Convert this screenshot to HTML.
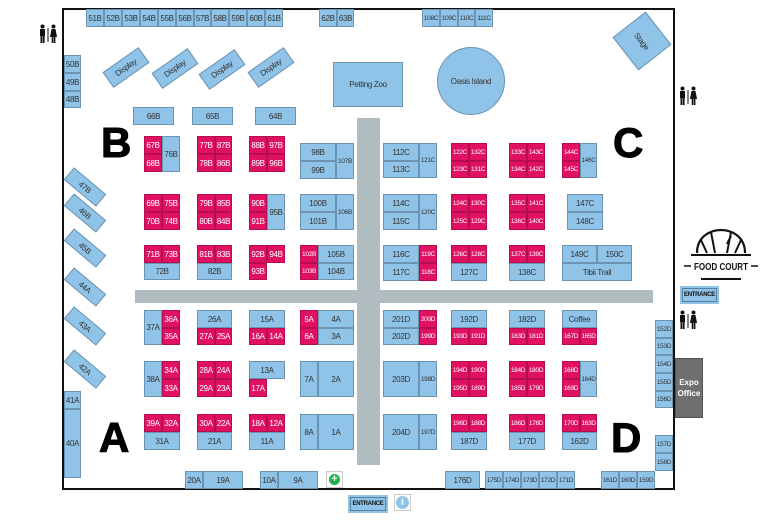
<!DOCTYPE html>
<html><head><meta charset="utf-8"><style>
body{margin:0;width:768px;height:522px;background:#fff;position:relative;overflow:hidden;font-family:"Liberation Sans",sans-serif}
div{position:absolute;box-sizing:border-box}
.b,.p{border:1px solid #6d93b3;display:flex;align-items:center;justify-content:center;font-size:8px;color:#333;white-space:nowrap;letter-spacing:-0.3px}
.b{background:#8fc3e8}
.p{background:#e01162;color:#fff;border-color:#b50d4e}
.g{background:#b0bcc0}
.L{font-weight:900;font-size:42px;color:#000;line-height:1;-webkit-text-stroke:1px #000}
.s{font-size:6.5px}
</style></head><body>
<div style="left:62px;top:8px;width:613px;height:482px;border:2px solid #111"></div>
<div class="g" style="left:357px;top:118px;width:23px;height:347px"></div>
<div class="g" style="left:135px;top:290px;width:518px;height:13px"></div>

<!-- top row -->
<div class="b" style="left:86px;top:9px;width:18px;height:18px">51B</div>
<div class="b" style="left:104px;top:9px;width:18px;height:18px">52B</div>
<div class="b" style="left:122px;top:9px;width:18px;height:18px">53B</div>
<div class="b" style="left:140px;top:9px;width:18px;height:18px">54B</div>
<div class="b" style="left:158px;top:9px;width:18px;height:18px">55B</div>
<div class="b" style="left:176px;top:9px;width:18px;height:18px">56B</div>
<div class="b" style="left:194px;top:9px;width:17px;height:18px">57B</div>
<div class="b" style="left:211px;top:9px;width:18px;height:18px">58B</div>
<div class="b" style="left:229px;top:9px;width:18px;height:18px">59B</div>
<div class="b" style="left:247px;top:9px;width:18px;height:18px">60B</div>
<div class="b" style="left:265px;top:9px;width:18px;height:18px">61B</div>
<div class="b" style="left:319px;top:9px;width:18px;height:18px">62B</div>
<div class="b" style="left:337px;top:9px;width:17px;height:18px">63B</div>
<div class="b s" style="left:422px;top:9px;width:18px;height:18px">108C</div>
<div class="b s" style="left:440px;top:9px;width:18px;height:18px">109C</div>
<div class="b s" style="left:458px;top:9px;width:17px;height:18px">110C</div>
<div class="b s" style="left:475px;top:9px;width:18px;height:18px">111C</div>

<div class="b" style="left:64px;top:55px;width:17px;height:18px">50B</div>
<div class="b" style="left:64px;top:73px;width:17px;height:18px">49B</div>
<div class="b" style="left:64px;top:91px;width:17px;height:17px">48B</div>

<div class="b" style="left:104px;top:58px;width:44px;height:19px;transform:rotate(-35deg)">Display</div>
<div class="b" style="left:153px;top:59px;width:44px;height:19px;transform:rotate(-35deg)">Display</div>
<div class="b" style="left:200px;top:60px;width:44px;height:19px;transform:rotate(-35deg)">Display</div>
<div class="b" style="left:249px;top:58px;width:44px;height:19px;transform:rotate(-35deg)">Display</div>

<div class="b" style="left:333px;top:62px;width:70px;height:45px">Petting Zoo</div>
<div class="b" style="left:437px;top:47px;width:68px;height:68px;border-radius:50%">Oasis Island</div>
<div class="b" style="left:621px;top:20px;width:42px;height:42px;transform:rotate(52deg)">Stage</div>

<div class="b" style="left:133px;top:107px;width:41px;height:18px">66B</div>
<div class="b" style="left:192px;top:107px;width:41px;height:18px">65B</div>
<div class="b" style="left:255px;top:107px;width:41px;height:18px">64B</div>

<div class="L" style="left:101px;top:122px">B</div>
<div class="L" style="left:613px;top:122px">C</div>
<div class="L" style="left:99px;top:417px">A</div>
<div class="L" style="left:611px;top:417px">D</div>

<!-- B row1 -->
<div class="p" style="left:144px;top:136px;width:18px;height:18px">67B</div>
<div class="p" style="left:144px;top:154px;width:18px;height:18px">68B</div>
<div class="b" style="left:162px;top:136px;width:18px;height:36px">76B</div>
<div class="p" style="left:197px;top:136px;width:18px;height:18px">77B</div>
<div class="p" style="left:215px;top:136px;width:17px;height:18px">87B</div>
<div class="p" style="left:197px;top:154px;width:18px;height:18px">78B</div>
<div class="p" style="left:215px;top:154px;width:17px;height:18px">86B</div>
<div class="p" style="left:249px;top:136px;width:18px;height:18px">88B</div>
<div class="p" style="left:267px;top:136px;width:18px;height:18px">97B</div>
<div class="p" style="left:249px;top:154px;width:18px;height:18px">89B</div>
<div class="p" style="left:267px;top:154px;width:18px;height:18px">96B</div>
<div class="b" style="left:300px;top:143px;width:36px;height:18px">98B</div>
<div class="b" style="left:300px;top:161px;width:36px;height:18px">99B</div>
<div class="b s" style="left:336px;top:143px;width:18px;height:36px">107B</div>
<!-- B row2 -->
<div class="p" style="left:144px;top:194px;width:18px;height:18px">69B</div>
<div class="p" style="left:162px;top:194px;width:18px;height:18px">75B</div>
<div class="p" style="left:144px;top:212px;width:18px;height:18px">70B</div>
<div class="p" style="left:162px;top:212px;width:18px;height:18px">74B</div>
<div class="p" style="left:197px;top:194px;width:18px;height:18px">79B</div>
<div class="p" style="left:215px;top:194px;width:17px;height:18px">85B</div>
<div class="p" style="left:197px;top:212px;width:18px;height:18px">80B</div>
<div class="p" style="left:215px;top:212px;width:17px;height:18px">84B</div>
<div class="p" style="left:249px;top:194px;width:18px;height:18px">90B</div>
<div class="p" style="left:249px;top:212px;width:18px;height:18px">91B</div>
<div class="b" style="left:267px;top:194px;width:18px;height:36px">95B</div>
<div class="b" style="left:300px;top:194px;width:36px;height:18px">100B</div>
<div class="b" style="left:300px;top:212px;width:36px;height:18px">101B</div>
<div class="b s" style="left:336px;top:194px;width:18px;height:36px">106B</div>
<!-- B row3 -->
<div class="p" style="left:144px;top:245px;width:18px;height:18px">71B</div>
<div class="p" style="left:162px;top:245px;width:18px;height:18px">73B</div>
<div class="b" style="left:144px;top:263px;width:36px;height:17px">72B</div>
<div class="p" style="left:197px;top:245px;width:18px;height:18px">81B</div>
<div class="p" style="left:215px;top:245px;width:17px;height:18px">83B</div>
<div class="b" style="left:197px;top:263px;width:35px;height:17px">82B</div>
<div class="p" style="left:249px;top:245px;width:18px;height:18px">92B</div>
<div class="p" style="left:267px;top:245px;width:18px;height:18px">94B</div>
<div class="p" style="left:249px;top:263px;width:18px;height:17px">93B</div>
<div class="p s" style="left:300px;top:245px;width:18px;height:18px">102B</div>
<div class="p s" style="left:300px;top:263px;width:18px;height:17px">103B</div>
<div class="b" style="left:318px;top:245px;width:36px;height:18px">105B</div>
<div class="b" style="left:318px;top:263px;width:36px;height:17px">104B</div>

<!-- diagonal left -->
<div class="b" style="left:64px;top:179px;width:42px;height:16px;transform:rotate(40deg)">47B</div>
<div class="b" style="left:64px;top:205px;width:42px;height:16px;transform:rotate(40deg)">46B</div>
<div class="b" style="left:64px;top:240px;width:42px;height:16px;transform:rotate(40deg)">45B</div>
<div class="b" style="left:64px;top:279px;width:42px;height:16px;transform:rotate(40deg)">44A</div>
<div class="b" style="left:64px;top:318px;width:42px;height:16px;transform:rotate(40deg)">43A</div>
<div class="b" style="left:64px;top:361px;width:42px;height:16px;transform:rotate(40deg)">42A</div>

<!-- C -->
<div class="b" style="left:383px;top:143px;width:36px;height:18px">112C</div>
<div class="b" style="left:383px;top:161px;width:36px;height:17px">113C</div>
<div class="b s" style="left:419px;top:143px;width:18px;height:35px">121C</div>
<div class="p s" style="left:451px;top:143px;width:18px;height:18px">122C</div>
<div class="p s" style="left:469px;top:143px;width:18px;height:18px">132C</div>
<div class="p s" style="left:451px;top:161px;width:18px;height:17px">123C</div>
<div class="p s" style="left:469px;top:161px;width:18px;height:17px">131C</div>
<div class="p s" style="left:509px;top:143px;width:18px;height:18px">133C</div>
<div class="p s" style="left:527px;top:143px;width:18px;height:18px">143C</div>
<div class="p s" style="left:509px;top:161px;width:18px;height:17px">134C</div>
<div class="p s" style="left:527px;top:161px;width:18px;height:17px">142C</div>
<div class="p s" style="left:562px;top:143px;width:18px;height:18px">144C</div>
<div class="p s" style="left:562px;top:161px;width:18px;height:17px">145C</div>
<div class="b s" style="left:580px;top:143px;width:17px;height:35px">146C</div>

<div class="b" style="left:383px;top:194px;width:36px;height:18px">114C</div>
<div class="b" style="left:383px;top:212px;width:36px;height:18px">115C</div>
<div class="b s" style="left:419px;top:194px;width:18px;height:36px">120C</div>
<div class="p s" style="left:451px;top:194px;width:18px;height:18px">124C</div>
<div class="p s" style="left:469px;top:194px;width:18px;height:18px">130C</div>
<div class="p s" style="left:451px;top:212px;width:18px;height:18px">125C</div>
<div class="p s" style="left:469px;top:212px;width:18px;height:18px">129C</div>
<div class="p s" style="left:509px;top:194px;width:18px;height:18px">135C</div>
<div class="p s" style="left:527px;top:194px;width:18px;height:18px">141C</div>
<div class="p s" style="left:509px;top:212px;width:18px;height:18px">136C</div>
<div class="p s" style="left:527px;top:212px;width:18px;height:18px">140C</div>
<div class="b" style="left:567px;top:194px;width:36px;height:18px">147C</div>
<div class="b" style="left:567px;top:212px;width:36px;height:18px">148C</div>

<div class="b" style="left:383px;top:245px;width:36px;height:18px">116C</div>
<div class="b" style="left:383px;top:263px;width:36px;height:18px">117C</div>
<div class="p s" style="left:419px;top:245px;width:18px;height:18px">119C</div>
<div class="p s" style="left:419px;top:263px;width:18px;height:18px">118C</div>
<div class="p s" style="left:451px;top:245px;width:18px;height:18px">126C</div>
<div class="p s" style="left:469px;top:245px;width:18px;height:18px">128C</div>
<div class="b" style="left:451px;top:263px;width:36px;height:18px">127C</div>
<div class="p s" style="left:509px;top:245px;width:18px;height:18px">137C</div>
<div class="p s" style="left:527px;top:245px;width:18px;height:18px">139C</div>
<div class="b" style="left:509px;top:263px;width:36px;height:18px">138C</div>
<div class="b" style="left:562px;top:245px;width:35px;height:18px">149C</div>
<div class="b" style="left:597px;top:245px;width:35px;height:18px">150C</div>
<div class="b" style="left:562px;top:263px;width:70px;height:18px">Tibii Trail</div>

<!-- A -->
<div class="b" style="left:144px;top:310px;width:18px;height:35px">37A</div>
<div class="p" style="left:162px;top:310px;width:18px;height:18px">36A</div>
<div class="p" style="left:162px;top:328px;width:18px;height:17px">35A</div>
<div class="b" style="left:197px;top:310px;width:35px;height:18px">26A</div>
<div class="p" style="left:197px;top:328px;width:18px;height:17px">27A</div>
<div class="p" style="left:215px;top:328px;width:17px;height:17px">25A</div>
<div class="b" style="left:249px;top:310px;width:36px;height:18px">15A</div>
<div class="p" style="left:249px;top:328px;width:18px;height:17px">16A</div>
<div class="p" style="left:267px;top:328px;width:18px;height:17px">14A</div>
<div class="p" style="left:300px;top:310px;width:18px;height:18px">5A</div>
<div class="p" style="left:300px;top:328px;width:18px;height:17px">6A</div>
<div class="b" style="left:318px;top:310px;width:36px;height:18px">4A</div>
<div class="b" style="left:318px;top:328px;width:36px;height:17px">3A</div>

<div class="b" style="left:144px;top:361px;width:18px;height:36px">38A</div>
<div class="p" style="left:162px;top:361px;width:18px;height:18px">34A</div>
<div class="p" style="left:162px;top:379px;width:18px;height:18px">33A</div>
<div class="p" style="left:197px;top:361px;width:18px;height:18px">28A</div>
<div class="p" style="left:215px;top:361px;width:17px;height:18px">24A</div>
<div class="p" style="left:197px;top:379px;width:18px;height:18px">29A</div>
<div class="p" style="left:215px;top:379px;width:17px;height:18px">23A</div>
<div class="b" style="left:249px;top:361px;width:36px;height:18px">13A</div>
<div class="p" style="left:249px;top:379px;width:18px;height:18px">17A</div>
<div class="b" style="left:300px;top:361px;width:18px;height:36px">7A</div>
<div class="b" style="left:318px;top:361px;width:36px;height:36px">2A</div>

<div class="p" style="left:144px;top:414px;width:18px;height:18px">39A</div>
<div class="p" style="left:162px;top:414px;width:18px;height:18px">32A</div>
<div class="b" style="left:144px;top:432px;width:36px;height:18px">31A</div>
<div class="p" style="left:197px;top:414px;width:18px;height:18px">30A</div>
<div class="p" style="left:215px;top:414px;width:17px;height:18px">22A</div>
<div class="b" style="left:197px;top:432px;width:35px;height:18px">21A</div>
<div class="p" style="left:249px;top:414px;width:18px;height:18px">18A</div>
<div class="p" style="left:267px;top:414px;width:18px;height:18px">12A</div>
<div class="b" style="left:249px;top:432px;width:36px;height:18px">11A</div>
<div class="b" style="left:300px;top:414px;width:18px;height:36px">8A</div>
<div class="b" style="left:318px;top:414px;width:36px;height:36px">1A</div>

<div class="b" style="left:64px;top:391px;width:17px;height:18px">41A</div>
<div class="b" style="left:64px;top:409px;width:17px;height:69px">40A</div>
<div class="b" style="left:185px;top:471px;width:18px;height:18px">20A</div>
<div class="b" style="left:203px;top:471px;width:40px;height:18px">19A</div>
<div class="b" style="left:260px;top:471px;width:18px;height:18px">10A</div>
<div class="b" style="left:278px;top:471px;width:40px;height:18px">9A</div>
<div style="left:326px;top:471px;width:17px;height:17px;border:1px solid #ccc;background:#fff"><div style="left:2px;top:2px;width:11px;height:11px;border-radius:50%;background:#1db34a;color:#fff;font-size:11px;font-weight:bold;line-height:11px;text-align:center">+</div></div>

<!-- D -->
<div class="b" style="left:383px;top:310px;width:36px;height:18px">201D</div>
<div class="b" style="left:383px;top:328px;width:36px;height:17px">202D</div>
<div class="p s" style="left:419px;top:310px;width:18px;height:18px">200D</div>
<div class="p s" style="left:419px;top:328px;width:18px;height:17px">199D</div>
<div class="b" style="left:451px;top:310px;width:36px;height:18px">192D</div>
<div class="p s" style="left:451px;top:328px;width:18px;height:17px">193D</div>
<div class="p s" style="left:469px;top:328px;width:18px;height:17px">191D</div>
<div class="b" style="left:509px;top:310px;width:36px;height:18px">182D</div>
<div class="p s" style="left:509px;top:328px;width:18px;height:17px">183D</div>
<div class="p s" style="left:527px;top:328px;width:18px;height:17px">181D</div>
<div class="b" style="left:562px;top:310px;width:35px;height:18px">Coffee</div>
<div class="p s" style="left:562px;top:328px;width:18px;height:17px">167D</div>
<div class="p s" style="left:580px;top:328px;width:17px;height:17px">165D</div>

<div class="b" style="left:383px;top:361px;width:36px;height:36px">203D</div>
<div class="b s" style="left:419px;top:361px;width:18px;height:36px">198D</div>
<div class="p s" style="left:451px;top:361px;width:18px;height:18px">194D</div>
<div class="p s" style="left:469px;top:361px;width:18px;height:18px">190D</div>
<div class="p s" style="left:451px;top:379px;width:18px;height:18px">195D</div>
<div class="p s" style="left:469px;top:379px;width:18px;height:18px">189D</div>
<div class="p s" style="left:509px;top:361px;width:18px;height:18px">184D</div>
<div class="p s" style="left:527px;top:361px;width:18px;height:18px">180D</div>
<div class="p s" style="left:509px;top:379px;width:18px;height:18px">185D</div>
<div class="p s" style="left:527px;top:379px;width:18px;height:18px">179D</div>
<div class="p s" style="left:562px;top:361px;width:18px;height:18px">168D</div>
<div class="p s" style="left:562px;top:379px;width:18px;height:18px">169D</div>
<div class="b s" style="left:580px;top:361px;width:17px;height:36px">164D</div>

<div class="b" style="left:383px;top:414px;width:36px;height:36px">204D</div>
<div class="b s" style="left:419px;top:414px;width:18px;height:36px">197D</div>
<div class="p s" style="left:451px;top:414px;width:18px;height:18px">196D</div>
<div class="p s" style="left:469px;top:414px;width:18px;height:18px">188D</div>
<div class="b" style="left:451px;top:432px;width:36px;height:18px">187D</div>
<div class="p s" style="left:509px;top:414px;width:18px;height:18px">186D</div>
<div class="p s" style="left:527px;top:414px;width:18px;height:18px">178D</div>
<div class="b" style="left:509px;top:432px;width:36px;height:18px">177D</div>
<div class="p s" style="left:562px;top:414px;width:18px;height:18px">170D</div>
<div class="p s" style="left:580px;top:414px;width:17px;height:18px">163D</div>
<div class="b" style="left:562px;top:432px;width:35px;height:18px">162D</div>

<div class="b s" style="left:655px;top:320px;width:18px;height:18px">152D</div>
<div class="b s" style="left:655px;top:338px;width:18px;height:17px">153D</div>
<div class="b s" style="left:655px;top:355px;width:18px;height:18px">154D</div>
<div class="b s" style="left:655px;top:373px;width:18px;height:18px">155D</div>
<div class="b s" style="left:655px;top:391px;width:18px;height:17px">156D</div>
<div class="b s" style="left:655px;top:435px;width:18px;height:18px">157D</div>
<div class="b s" style="left:655px;top:453px;width:18px;height:18px">158D</div>
<div style="left:675px;top:358px;width:28px;height:60px;background:#6f6f6f;border:1px solid #555;color:#fff;font-size:8px;font-weight:bold;display:flex;align-items:center;justify-content:center;text-align:center;line-height:11px">Expo<br>Office</div>

<div class="b" style="left:445px;top:471px;width:35px;height:18px">176D</div>
<div class="b s" style="left:485px;top:471px;width:18px;height:18px">175D</div>
<div class="b s" style="left:503px;top:471px;width:18px;height:18px">174D</div>
<div class="b s" style="left:521px;top:471px;width:18px;height:18px">173D</div>
<div class="b s" style="left:539px;top:471px;width:18px;height:18px">172D</div>
<div class="b s" style="left:557px;top:471px;width:18px;height:18px">171D</div>
<div class="b s" style="left:601px;top:471px;width:18px;height:18px">161D</div>
<div class="b s" style="left:619px;top:471px;width:18px;height:18px">160D</div>
<div class="b s" style="left:637px;top:471px;width:18px;height:18px">159D</div>

<!-- entrances -->
<div class="b" style="left:348px;top:495px;width:40px;height:18px;font-size:6px;font-weight:bold;color:#111;border:2px solid #8fc3e8;outline:1px solid #5a7f9f;outline-offset:-3px">ENTRANCE</div>
<div style="left:394px;top:494px;width:17px;height:17px;border:1px solid #ccc;background:#fff"><div style="left:1px;top:1px;width:13px;height:13px;border-radius:50%;background:#8fc3e8;color:#fff;font-size:10px;font-weight:bold;line-height:13px;text-align:center">i</div></div>
<div class="b" style="left:680px;top:286px;width:39px;height:18px;font-size:6px;font-weight:bold;color:#111;border:2px solid #8fc3e8;outline:1px solid #5a7f9f;outline-offset:-3px">ENTRANCE</div>

<!-- food court -->
<svg style="position:absolute;left:683px;top:226px" width="76" height="58" viewBox="0 0 76 58">
<path d="M14 27 C14 10 28 4 38 4 C48 4 62 10 62 27" fill="none" stroke="#111" stroke-width="2.2"/>
<path d="M24 27 L18 14 M32 27 L28 6 M44 27 L48 6 M52 27 L58 14 M44 18 L48 10" fill="none" stroke="#111" stroke-width="2"/>
<line x1="8" y1="29" x2="68" y2="29" stroke="#111" stroke-width="2"/>
<text x="11" y="44" font-family="Liberation Sans" font-weight="bold" font-size="10" textLength="54" lengthAdjust="spacingAndGlyphs" fill="#111">FOOD COURT</text>
<line x1="1" y1="40" x2="8" y2="40" stroke="#111" stroke-width="1.5"/><line x1="68" y1="40" x2="75" y2="40" stroke="#111" stroke-width="1.5"/>
<line x1="18" y1="53" x2="58" y2="53" stroke="#111" stroke-width="2"/>
</svg>

<!-- restrooms -->
<svg style="position:absolute;left:38px;top:24px" width="20" height="20" viewBox="0 0 20 20"><g fill="#111"><circle cx="4.5" cy="2.5" r="2"/><rect x="2" y="5" width="5" height="7"/><rect x="2.5" y="11" width="1.8" height="8"/><rect x="4.8" y="11" width="1.8" height="8"/><rect x="9.5" y="4" width="1" height="14"/><circle cx="15.5" cy="2.5" r="2"/><path d="M13.5 5h4l1.5 8h-7z"/><rect x="13.7" y="12" width="1.6" height="7"/><rect x="15.8" y="12" width="1.6" height="7"/></g></svg>
<svg style="position:absolute;left:678px;top:86px" width="20" height="20" viewBox="0 0 20 20"><g fill="#111"><circle cx="4.5" cy="2.5" r="2"/><rect x="2" y="5" width="5" height="7"/><rect x="2.5" y="11" width="1.8" height="8"/><rect x="4.8" y="11" width="1.8" height="8"/><rect x="9.5" y="4" width="1" height="14"/><circle cx="15.5" cy="2.5" r="2"/><path d="M13.5 5h4l1.5 8h-7z"/><rect x="13.7" y="12" width="1.6" height="7"/><rect x="15.8" y="12" width="1.6" height="7"/></g></svg>
<svg style="position:absolute;left:678px;top:310px" width="20" height="20" viewBox="0 0 20 20"><g fill="#111"><circle cx="4.5" cy="2.5" r="2"/><rect x="2" y="5" width="5" height="7"/><rect x="2.5" y="11" width="1.8" height="8"/><rect x="4.8" y="11" width="1.8" height="8"/><rect x="9.5" y="4" width="1" height="14"/><circle cx="15.5" cy="2.5" r="2"/><path d="M13.5 5h4l1.5 8h-7z"/><rect x="13.7" y="12" width="1.6" height="7"/><rect x="15.8" y="12" width="1.6" height="7"/></g></svg>
</body></html>
